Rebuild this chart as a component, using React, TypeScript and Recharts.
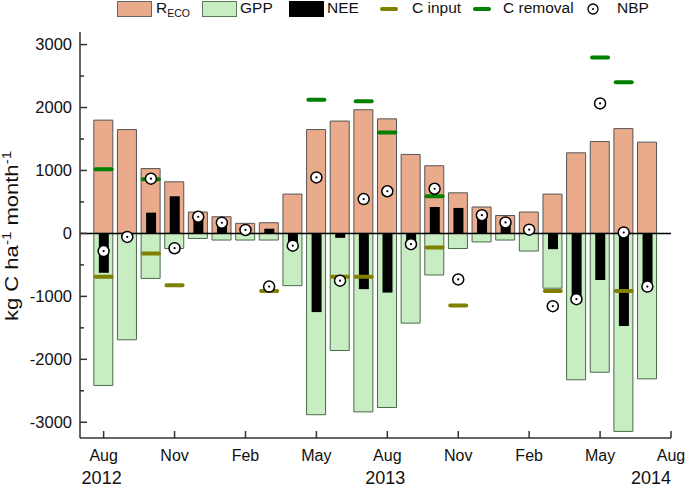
import { ComposedChart, Bar, Scatter, XAxis, YAxis, ReferenceLine, Legend } from "recharts";

// months since Jul 2012 -> Aug 2012 is 1, Jul 2014 is 24
const monthNames = [
  "Aug 2012", "Sep 2012", "Oct 2012", "Nov 2012", "Dec 2012", "Jan 2013",
  "Feb 2013", "Mar 2013", "Apr 2013", "May 2013", "Jun 2013", "Jul 2013",
  "Aug 2013", "Sep 2013", "Oct 2013", "Nov 2013", "Dec 2013", "Jan 2014",
  "Feb 2014", "Mar 2014", "Apr 2014", "May 2014", "Jun 2014", "Jul 2014",
];
const monthPos = monthNames.map((_, i) => i + 1);

const reco = [1800, 1650, 1030, 820, 340, 265, 160, 170, 625, 1650, 1785, 1965, 1820, 1255, 1075, 645, 420, 285, 340, 625, 1280, 1460, 1665, 1450];
const gpp = [-2415, -1690, -715, -240, -80, -105, -105, -105, -830, -2880, -1860, -2835, -2765, -1425, -660, -240, -135, -105, -280, -870, -2325, -2205, -3145, -2310];
const nee = [-625, -50, 330, 590, 265, 170, 55, 75, -190, -1250, -70, -885, -940, -155, 420, 405, 290, 175, 60, -250, -1040, -740, -1470, -845];
const cInput = [-690, null, -320, -825, null, null, null, -915, null, null, -690, -690, null, null, -225, -1145, null, null, null, -915, null, null, -915, null];
const cRemoval = [1020, null, 860, null, null, null, null, null, null, 2125, null, 2100, 1605, null, 590, null, null, null, null, null, null, 2795, 2400, null];
const nbp = [-280, -55, 870, -235, 265, 170, 55, -845, -195, 890, -750, 545, 670, -170, 710, -730, 290, 175, 60, -1155, -1045, 2065, 15, -845];

const xTicks = [1, 4, 7, 10, 13, 16, 19, 22, 25];
const xTickLabels = ["Aug", "Nov", "Feb", "May", "Aug", "Nov", "Feb", "May", "Aug"];
const yearTicks = [1, 13, 25];
const years = ["2012", "2013", "2014"];
const yTicks = [-3000, -2500, -2000, -1500, -1000, -500, 0, 500, 1000, 1500, 2000, 2500, 3000];

const FONT = "'Liberation Sans', Arial, sans-serif";
const AXIS = "#333";
const RECO_FILL = "#E9AB8B";
const GPP_FILL = "#C8EDC3";
const OLIVE = "#808000";
const GREEN = "#008000";

const rows = monthPos.map((x, i) => ({ x, reco: reco[i], gpp: gpp[i], nee: nee[i] }));
const toPts = (arr: (number | null)[]) =>
  arr.map((v, i) => (v == null ? null : { x: monthPos[i], y: v })).filter(Boolean) as { x: number; y: number }[];
const inputPts = toPts(cInput);
const removalPts = toPts(cRemoval);
const nbpPts = toPts(nbp);

const dash = (color: string) => (props: any) => {
  const { cx, cy } = props;
  if (cx == null || cy == null) return <g />;
  return <line x1={cx - 8} x2={cx + 8} y1={cy} y2={cy} stroke={color} strokeWidth={4} strokeLinecap="round" />;
};

const NbpDot = (props: any) => {
  const { cx, cy } = props;
  if (cx == null || cy == null) return <g />;
  return (
    <g>
      <circle cx={cx} cy={cy} r={5.5} fill="#fff" stroke="#000" strokeWidth={1.5} />
      <circle cx={cx} cy={cy} r={1.1} fill="#000" />
    </g>
  );
};

const BottomTick = (props: any) => {
  const { x, y, payload } = props;
  const i = xTicks.indexOf(payload.value);
  const yi = yearTicks.indexOf(payload.value);
  return (
    <g>
      <line x1={x} x2={x} y1={y} y2={y - 7} stroke={AXIS} strokeWidth={1.5} />
      <text x={x} y={y + 23} textAnchor="middle" fontSize={16} fontFamily={FONT} fill="#111">
        {xTickLabels[i]}
      </text>
      {yi >= 0 && (
        <text x={yi === 2 ? x : x - 2} y={y + 46} textAnchor={yi === 2 ? "end" : "middle"} fontSize={18} fontFamily={FONT} fill="#111">
          {years[yi]}
        </text>
      )}
    </g>
  );
};

const TopTick = (props: any) => {
  const { x, y } = props;
  return <line x1={x} x2={x} y1={y} y2={y + 7} stroke={AXIS} strokeWidth={1.5} />;
};

const LeftTick = (props: any) => {
  const { x, y, payload } = props;
  const major = payload.value % 1000 === 0;
  return (
    <g>
      <line x1={x} x2={x + (major ? 7 : 4)} y1={y} y2={y} stroke={AXIS} strokeWidth={1.5} />
      {major && (
        <text x={x - 8} y={y} dy="0.35em" textAnchor="end" fontSize={16.5} fontFamily={FONT} fill="#111">
          {payload.value}
        </text>
      )}
    </g>
  );
};

const RightTick = (props: any) => {
  const { x, y, payload } = props;
  const major = payload.value % 1000 === 0;
  return <line x1={x} x2={x - (major ? 7 : 4)} y1={y} y2={y} stroke={AXIS} strokeWidth={1.5} />;
};

const YLabel = () => (
  <text transform="translate(18,236) rotate(-90) scale(1.16,1)" textAnchor="middle" fontSize={19} fontFamily={FONT} fill="#111">
    kg C ha<tspan dy={-7} fontSize={13}>-1</tspan>
    <tspan dy={7}> month</tspan>
    <tspan dy={-7} fontSize={13}>-1</tspan>
  </text>
);

const txt = { position: "absolute" as const, top: -2, fontSize: 15.5, fontFamily: FONT, color: "#111", lineHeight: "20px", whiteSpace: "nowrap" as const };
const box = (left: number, fill: string, stroke: string) => ({
  position: "absolute" as const, left, top: 1, width: 33, height: 14, background: fill, border: `1px solid ${stroke}`,
});

const LegendContent = () => (
  <div style={{ position: "relative", width: 685, height: 22 }}>
    <div style={box(117, RECO_FILL, "#666")} />
    <span style={{ ...txt, left: 156 }}>
      R<sub style={{ fontSize: 10.5, verticalAlign: "-4px" }}>ECO</sub>
    </span>
    <div style={box(202, GPP_FILL, "#5a7a5a")} />
    <span style={{ ...txt, left: 240 }}>GPP</span>
    <div style={box(289, "#000", "#000")} />
    <span style={{ ...txt, left: 327 }}>NEE</span>
    <div style={{ position: "absolute", left: 380, top: 7, width: 18, height: 4, borderRadius: 2, background: OLIVE }} />
    <span style={{ ...txt, left: 412 }}>C input</span>
    <div style={{ position: "absolute", left: 473, top: 7, width: 18, height: 4, borderRadius: 2, background: GREEN }} />
    <span style={{ ...txt, left: 503 }}>C removal</span>
    <svg style={{ position: "absolute", left: 586, top: 2 }} width={14} height={14}>
      <circle cx={7} cy={7} r={5} fill="#fff" stroke="#000" strokeWidth={1.3} />
      <circle cx={7} cy={7} r={1} fill="#000" />
    </svg>
    <span style={{ ...txt, left: 617 }}>NBP</span>
  </div>
);

export default function App() {
  return (
    <div style={{ width: 685, height: 490 }}>
      <style>{`body{margin:0}`}</style>
      <ComposedChart
        width={685}
        height={490}
        data={rows}
        stackOffset="sign"
        margin={{ top: 10, right: 14, bottom: 0, left: 0 }}
      >
        <Legend
          verticalAlign="top"
          content={LegendContent}
          wrapperStyle={{ top: 0, left: 0, width: 685, height: 22 }}
        />
        <XAxis
          xAxisId="main"
          dataKey="x"
          type="number"
          domain={[0, 25]}
          ticks={xTicks}
          interval={0}
          height={52}
          tickSize={0}
          tickMargin={0}
          tickLine={false}
          tick={BottomTick}
          axisLine={{ stroke: AXIS, strokeWidth: 1.5 }}
          allowDataOverflow
        />
        <XAxis xAxisId="nee" dataKey="x" type="number" domain={[0, 25]} hide />
        <XAxis
          xAxisId="top"
          orientation="top"
          type="number"
          domain={[0, 25]}
          ticks={xTicks}
          interval={0}
          height={0}
          tickSize={0}
          tickMargin={0}
          tickLine={false}
          tick={TopTick}
          axisLine={{ stroke: AXIS, strokeWidth: 1.5 }}
        />
        <YAxis
          type="number"
          domain={[-3250, 3200]}
          ticks={yTicks}
          interval={0}
          width={80}
          tickSize={0}
          tickMargin={0}
          tickLine={false}
          tick={LeftTick}
          axisLine={{ stroke: AXIS, strokeWidth: 1.5 }}
          label={<YLabel />}
          allowDataOverflow
        />
        <YAxis
          yAxisId="right"
          orientation="right"
          type="number"
          domain={[-3250, 3200]}
          ticks={yTicks}
          interval={0}
          width={0}
          tickSize={0}
          tickMargin={0}
          tickLine={false}
          tick={RightTick}
          axisLine={{ stroke: AXIS, strokeWidth: 1.5 }}
        />
        <Bar xAxisId="main" dataKey="reco" stackId="a" barSize={19} fill={RECO_FILL} stroke="#555" strokeWidth={1} isAnimationActive={false} />
        <Bar xAxisId="main" dataKey="gpp" stackId="a" barSize={19} fill={GPP_FILL} stroke="#4a6a4a" strokeWidth={1} isAnimationActive={false} />
        <Bar xAxisId="nee" dataKey="nee" barSize={10} fill="#000" isAnimationActive={false} />
        <ReferenceLine xAxisId="main" y={0} stroke="#000" strokeWidth={1.5} />
        <Scatter xAxisId="main" data={inputPts} dataKey="y" shape={dash(OLIVE)} isAnimationActive={false} />
        <Scatter xAxisId="main" data={removalPts} dataKey="y" shape={dash(GREEN)} isAnimationActive={false} />
        <Scatter xAxisId="main" data={nbpPts} dataKey="y" shape={NbpDot} isAnimationActive={false} />
      </ComposedChart>
    </div>
  );
}
